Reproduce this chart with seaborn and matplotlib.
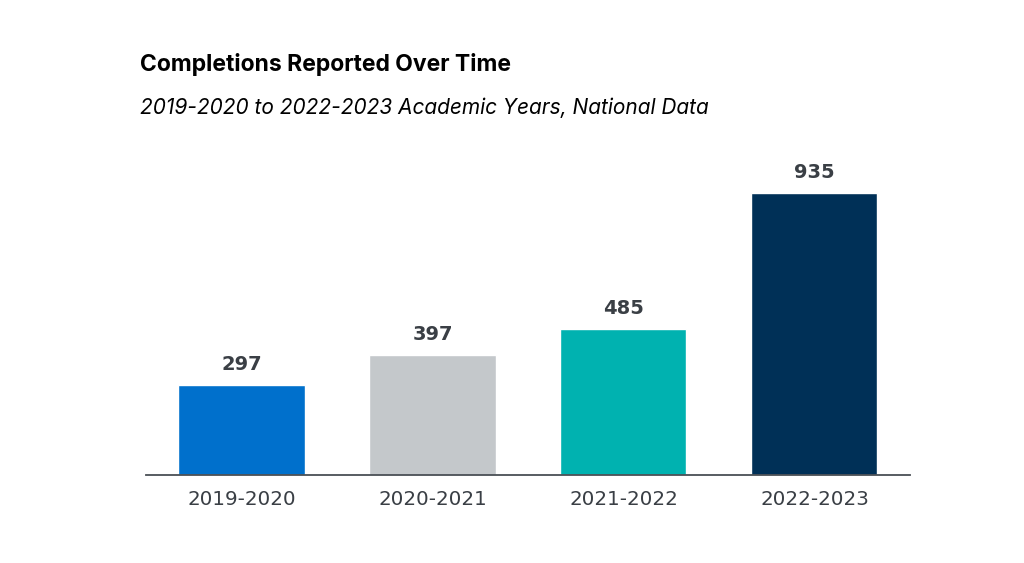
import matplotlib
matplotlib.use('Agg')

import pandas as pd
import matplotlib.pyplot as plt
import seaborn as sns

# Daten
years = ['2019-2020', '2020-2021', '2021-2022', '2022-2023']
completions = [297, 397, 485, 935]
bar_colors = ['#0070CC', '#C4C8CB', '#00B2B0', '#003057']

df = pd.DataFrame({'year': years, 'completions': completions})

sns.set_theme(style="white")
plt.rcParams['font.family'] = ['DejaVu Sans']

fig = plt.figure(figsize=(10.24, 5.63), dpi=100)
ax = fig.add_axes([0.1426, 0.1563, 0.746, 0.595])

sns.barplot(data=df, x='year', y='completions', hue='year', palette=bar_colors,
            legend=False, width=0.66, saturation=1, ax=ax)

ax.set_xlim(-0.5, 3.5)
ax.set_ylim(0, 1110)

# Werte über den Balken
for i, v in enumerate(completions):
    ax.annotate(f'{v}', (i, v), xytext=(0, 8), textcoords='offset points',
                ha='center', va='bottom', fontsize=14, fontweight='bold',
                color='#3A3F45')

for side in ['top', 'right', 'left']:
    ax.spines[side].set_visible(False)
ax.spines['bottom'].set_color('#4A4F55')
ax.spines['bottom'].set_linewidth(1.3)
ax.set_yticks([])
ax.set_xlabel('')
ax.set_ylabel('')
ax.tick_params(axis='x', length=0, pad=11, labelsize=14.3, labelcolor='#3A3F45')

fig.text(0.137, 0.885, 'Completions Reported Over Time', fontsize=16.5,
         fontweight='bold', family='Inter', color='black', va='center')
fig.text(0.137, 0.808, '2019-2020 to 2022-2023 Academic Years, National Data',
         fontsize=15, style='italic', family='Inter', color='black', va='center')

fig.savefig('out.png', dpi=100)
